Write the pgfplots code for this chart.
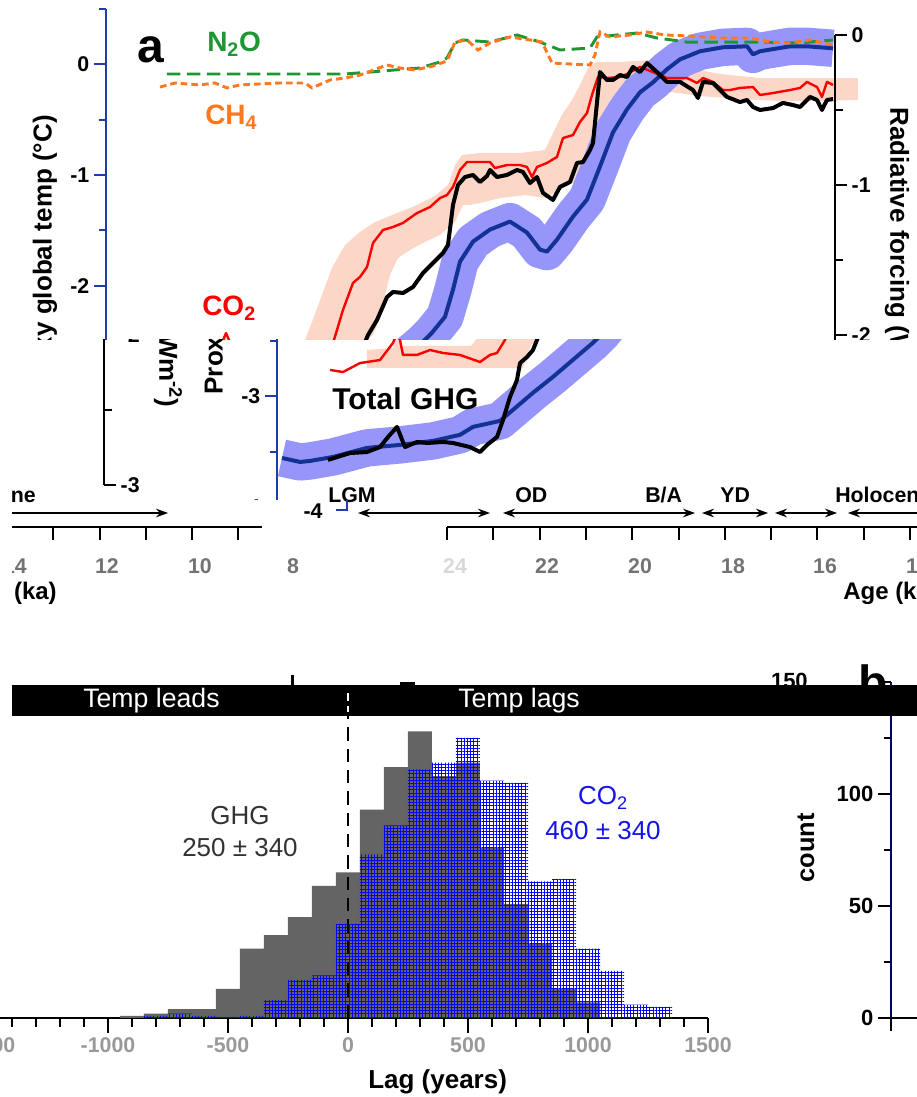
\documentclass[border=0pt]{standalone}
\usepackage{fontspec}
\setmainfont{Liberation Sans}
\usepackage{pgfplots}
\pgfplotsset{compat=1.18}
\usepackage{pgfplotstable}
\usetikzlibrary{arrows.meta,patterns.meta}

\definecolor{bluax}{RGB}{30,60,170}
\definecolor{blueline}{RGB}{20,50,150}
\definecolor{blueband}{RGB}{150,150,250}
\definecolor{pinkband}{RGB}{252,214,198}
\definecolor{gN}{RGB}{30,150,50}
\definecolor{oC}{RGB}{255,120,30}
\definecolor{hgray}{RGB}{100,100,100}
\definecolor{tgray}{RGB}{50,50,50}
\definecolor{cblue}{RGB}{20,20,230}
\newcommand{\fs}[1]{\fontsize{#1}{#1}\selectfont}
\tikzset{px/.style={x=0.75pt,y=0.75pt}}

% ---------- panel a data (age in ka, temperature in degC, forcing in W m-2)
\pgfplotstableread{
x y
24.42 -3.557
24.06 -3.593
23.86 -3.584
23.40 -3.548
22.72 -3.466
22.06 -3.439
21.40 -3.403
20.86 -3.348
20.60 -3.276
20.06 -3.222
19.80 -3.122
19.40 -2.968
19.00 -2.824
18.60 -2.670
18.20 -2.516
18.00 -2.425
17.74 -2.281
17.58 -2.036
17.44 -1.783
17.18 -1.602
16.84 -1.493
16.44 -1.421
16.10 -1.520
15.84 -1.674
15.70 -1.692
15.50 -1.584
15.18 -1.376
14.90 -1.222
14.64 -0.923
14.38 -0.615
14.10 -0.407
13.84 -0.253
13.58 -0.163
13.30 -0.045
13.04 0.045
12.64 0.118
12.18 0.154
11.70 0.163
11.58 0.090
11.44 0.118
10.84 0.163
10.50 0.163
9.98 0.145
}\tblue

\pgfplotstableread{
x y
23.50 -2.833
23.06 -2.787
22.72 -2.780
22.46 -2.747
22.30 -2.680
22.12 -2.613
21.96 -2.747
21.72 -2.713
21.52 -2.720
21.20 -2.713
21.00 -2.720
20.66 -2.747
20.46 -2.780
20.32 -2.733
20.12 -2.680
20.00 -2.567
19.86 -2.413
19.72 -2.300
19.66 -2.187
19.52 -2.147
19.40 -2.100
19.28 -2.000
19.10 -1.900
18.90 -1.747
18.78 -1.713
18.58 -1.720
18.38 -1.680
18.18 -1.587
17.98 -1.520
17.78 -1.453
17.68 -1.400
17.58 -1.133
17.48 -1.000
17.34 -0.947
17.18 -0.933
17.04 -0.980
16.90 -0.940
16.84 -0.900
16.70 -0.947
16.50 -0.933
16.30 -0.900
16.18 -0.913
16.04 -0.987
15.90 -0.947
15.78 -1.053
15.58 -1.100
15.44 -1.013
15.24 -0.980
15.10 -0.853
14.98 -0.847
14.84 -0.767
14.78 -0.720
14.64 -0.247
14.50 -0.300
14.38 -0.300
14.24 -0.267
14.10 -0.280
13.98 -0.213
13.84 -0.247
13.70 -0.187
13.50 -0.247
13.30 -0.313
13.04 -0.313
12.78 -0.367
12.68 -0.420
12.58 -0.313
12.38 -0.320
12.10 -0.413
11.84 -0.447
11.70 -0.433
11.58 -0.480
11.44 -0.500
11.18 -0.487
10.98 -0.453
10.78 -0.467
10.64 -0.480
10.44 -0.413
10.30 -0.433
10.20 -0.500
10.10 -0.433
9.98 -0.427
}\tblack

\pgfplotstableread{
x y
23.46 -2.233
23.20 -2.247
22.86 -2.187
22.46 -2.167
22.20 -2.053
22.12 -1.987
22.06 -2.033
22.00 -2.133
21.72 -2.133
21.46 -2.100
21.20 -2.120
20.86 -2.133
20.46 -2.180
20.26 -2.133
20.12 -2.120
19.96 -2.033
19.78 -1.833
19.58 -1.653
19.44 -1.613
19.30 -1.547
19.18 -1.387
18.98 -1.300
18.78 -1.280
18.58 -1.253
18.30 -1.187
18.04 -1.147
17.84 -1.087
17.70 -1.067
17.58 -1.013
17.44 -0.900
17.30 -0.847
16.84 -0.847
16.74 -0.887
16.50 -0.867
16.24 -0.867
16.10 -0.880
16.00 -0.947
15.90 -0.880
15.70 -0.853
15.50 -0.813
15.38 -0.687
15.18 -0.667
15.04 -0.580
14.90 -0.520
14.80 -0.400
14.68 -0.280
14.50 -0.287
14.24 -0.280
14.10 -0.260
13.84 -0.213
13.54 -0.253
13.30 -0.287
12.90 -0.287
12.70 -0.320
12.58 -0.287
12.38 -0.313
12.18 -0.367
12.04 -0.367
11.84 -0.353
11.58 -0.347
11.44 -0.400
11.18 -0.387
10.84 -0.367
10.64 -0.353
10.50 -0.313
10.30 -0.347
10.20 -0.413
10.10 -0.313
9.98 -0.333
}\tred

% CO2 uncertainty envelope: upper edge left to right, then lower edge right to left
\pgfplotstableread{
x y
22.72 -2.100
22.20 -2.087
22.14 -2.000
22.04 -2.073
20.64 -2.073
20.54 -2.033
20.40 -1.913
20.20 -1.733
20.00 -1.553
19.74 -1.400
19.44 -1.313
19.14 -1.247
18.74 -1.193
18.34 -1.140
17.94 -1.073
17.68 -1.000
17.54 -0.867
17.40 -0.800
17.04 -0.787
16.24 -0.787
15.74 -0.767
15.60 -0.667
15.40 -0.533
15.20 -0.433
15.04 -0.333
14.88 -0.220
14.72 -0.180
14.24 -0.180
13.64 -0.167
12.84 -0.220
12.24 -0.260
11.44 -0.287
10.64 -0.287
9.48 -0.287
9.48 -0.433
10.24 -0.440
11.04 -0.440
11.84 -0.427
12.64 -0.407
13.24 -0.380
13.84 -0.367
14.28 -0.380
14.44 -0.433
14.56 -0.580
14.68 -0.753
14.84 -0.900
15.08 -0.967
15.44 -1.033
15.74 -1.087
16.14 -1.067
16.64 -1.087
17.04 -1.120
17.24 -1.133
17.38 -1.133
17.54 -1.247
17.84 -1.333
18.14 -1.380
18.44 -1.433
18.68 -1.487
18.84 -1.600
18.94 -1.733
19.04 -1.887
19.18 -2.000
19.44 -2.067
19.60 -2.220
20.64 -2.220
22.72 -2.220
}\tpink

\pgfplotstableread{
x y
23.30 -0.260
19.74 -0.260
19.24 -0.247
18.74 -0.233
18.24 -0.220
17.84 -0.180
17.70 -0.153
17.54 -0.053
17.38 -0.033
16.84 -0.047
16.30 0.000
15.84 -0.047
15.44 -0.100
14.84 -0.087
14.70 -0.013
13.90 0.013
13.50 -0.020
12.90 -0.047
12.24 -0.047
11.44 -0.047
10.64 -0.053
9.98 -0.033
}\tnto

\pgfplotstableread{
x y
23.44 -0.347
23.14 -0.320
22.64 -0.333
22.34 -0.320
22.10 -0.353
21.84 -0.333
21.04 -0.320
20.54 -0.320
20.40 -0.353
20.04 -0.300
19.74 -0.287
19.44 -0.267
18.90 -0.200
18.64 -0.220
18.34 -0.233
17.98 -0.207
17.70 -0.173
17.54 -0.047
17.30 -0.033
17.08 -0.100
16.84 -0.053
16.44 -0.013
16.04 -0.033
15.80 -0.047
15.60 -0.187
14.84 -0.200
14.74 -0.133
14.64 0.020
14.44 -0.013
14.04 0.000
13.70 0.020
13.34 0.000
12.84 -0.007
12.24 -0.020
11.64 -0.020
11.24 -0.047
10.84 -0.053
10.44 -0.033
9.98 -0.067
}\tch

\pgfplotsset{
  basepan/.style={scale only axis, width=546.75pt, xmin=9.94, xmax=24.52,
    x dir=reverse, clip=false, anchor=south west, axis x line=none,
    /pgf/number format/assume math mode=true, tick align=outside,
    yticklabel style={font=\bfseries\fs{16}, text=black}},
  tax/.style={basepan, height=373.5pt, ymin=-4, ymax=0.5},
  fax/.style={basepan, height=337.5pt, ymin=-3, ymax=0},
}

% the whole original panel a, shifted horizontally by #1 px
\newcommand{\panelA}[1]{%
\begin{axis}[fax, axis y line=none, at={({(106+(#1))*0.75pt},459pt)}]
  \addplot[fill=pinkband, draw=none] table {\tpink};
\end{axis}
\begin{axis}[tax, axis y line*=left, at={({(106+(#1))*0.75pt},442.5pt)},
    ytick={-4,-3,-2,-1,0}, minor ytick={-3.5,-2.5,-1.5,-0.5,0.5},
    major tick length=9pt, minor tick length=5.5pt,
    y axis line style={bluax, line width=1.5pt},
    ytick style={bluax, line width=1.5pt}]
  \addplot[blueband, line width=28pt, line join=round, line cap=butt] table {\tblue};
  \addplot[blueline, line width=3pt, line join=round] table {\tblue};
\end{axis}
\begin{axis}[fax, axis y line*=right, at={({(106+(#1))*0.75pt},459pt)},
    ytick={-3,-2,-1,0}, minor ytick={-2.5,-1.5,-0.5},
    major tick length=9pt, minor tick length=6pt,
    y axis line style={black, line width=1.5pt},
    ytick style={black, line width=1.5pt}]
  \addplot[red, line width=1.8pt, line join=round] table {\tred};
  \addplot[black, line width=3pt, line join=round] table {\tblack};
  \addplot[gN, line width=2.2pt, dash pattern=on 10pt off 5pt] table {\tnto};
  \addplot[oC, line width=2.2pt, dash pattern=on 5pt off 3pt] table {\tch};
\end{axis}
\begin{scope}[px]
\node[anchor=base west, inner sep=0, font=\bfseries\fs{36}] at ({137+(#1)},{1097-63}) {a};
\node[anchor=base west, inner sep=0, font=\bfseries\fs{21}, text=gN] at ({207+(#1)},{1097-52}) {N\textsubscript{2}O};
\node[anchor=base west, inner sep=0, font=\bfseries\fs{21}, text=oC] at ({205+(#1)},{1097-125}) {CH\textsubscript{4}};
\node[anchor=base west, inner sep=0, font=\bfseries\fs{21}, text=red] at ({202+(#1)},{1097-316}) {CO\textsubscript{2}};
\node[anchor=base west, inner sep=0, font=\bfseries\fs{22.5}] at ({161+(#1)},{1097-410}) {Total GHG};
\node[rotate=90, anchor=east, inner sep=0, font=\bfseries\fs{19.5}] at ({45+(#1)},{1097-115}) {Proxy global temp (°C)};
\node[rotate=-90, anchor=west, inner sep=0, font=\bfseries\fs{19.5}] at ({899+(#1)},{1097-107}) {Radiative forcing (Wm\textsuperscript{-2})};
\end{scope}
}

\begin{document}
\begin{tikzpicture}

% ---------- panel a, pieced together from three strips
\begin{scope}
  \clip[px] (0,757) rectangle (917,1097);
  \panelA{0}
\end{scope}
\begin{scope}
  \clip[px] (200,597) rectangle (917,757);
  \panelA{171}
\end{scope}
\begin{scope}
  \clip[px] (0,602) rectangle (200,757);
  \panelA{-731}
\end{scope}

% ---------- age axis strips
\begin{axis}[scale only axis, width=352.5pt, height=5pt, at={(335.25pt,427.5pt)}, anchor=south west,
  xmin=13.849, xmax=24, x dir=reverse, ymin=0, ymax=1, axis y line=none, axis x line*=bottom,
  xtick={14,...,24}, xticklabels={}, tick align=outside, major tick length=9.75pt,
  x axis line style={line width=1.5pt}, xtick style={line width=1.5pt, black}]
\end{axis}
\begin{axis}[scale only axis, width=187.5pt, height=5pt, at={(9pt,427.5pt)}, anchor=south west,
  xmin=8.492, xmax=13.892, x dir=reverse, ymin=0, ymax=1, axis y line=none, axis x line*=bottom,
  xtick={9,...,13}, xticklabels={}, tick align=outside, major tick length=9.75pt,
  x axis line style={line width=1.5pt}, xtick style={line width=1.5pt, black}]
\end{axis}
\begin{scope}[px, font=\bfseries\fs{16}, text=black!55]
  \node at (455,531) {\textcolor{black!15}{24}};
  \node at (547,531) {22};
  \node at (640,531) {20};
  \node at (733,531) {18};
  \node at (825,531) {16};
  \node at (918,531) {14};
  \node at (107,531) {12};
  \node at (200,531) {10};
  \node at (293,531) {8};
\end{scope}
\begin{scope}[px]
  \clip (12,480) rectangle (330,620);
  \node[font=\bfseries\fs{16}, text=black!55] at (15,531) {14};
  \node[anchor=base east, inner sep=0, font=\bfseries\fs{16}] at (36,594) {Holocene};
  \node[anchor=base east, inner sep=0, font=\bfseries\fs{18}] at (57,497) {Age (ka)};
\end{scope}
% event arrows
\begin{scope}[px, line width=0.8pt, >={Stealth[length=9pt,width=6.5pt]}]
  \draw[->] (12,584) -- (168,584);
  \draw[<->] (358,584) -- (490,584);
  \draw[<->] (503,584) -- (695,584);
  \draw[<->] (702,584) -- (768,584);
  \draw[<->] (775,584) -- (837,584);
  \draw[<-] (848,584) -- (930,584);
\end{scope}
\begin{scope}[px, font=\bfseries\fs{16}]
  \node[anchor=base west, inner sep=0] at (328,594) {LGM};
  \node[anchor=base west, inner sep=0] at (515,594) {OD};
  \node[anchor=base west, inner sep=0] at (645,594) {B/A};
  \node[anchor=base west, inner sep=0] at (720,594) {YD};
  \node[anchor=base west, inner sep=0] at (835,594) {Holocene};
  \node at (313,586) {-4};
  \draw[bluax, line width=1.5pt] (347,597) -- (347,587) -- (336,587);
  \node[anchor=base west, inner sep=0, font=\bfseries\fs{18}] at (843,497) {Age (ka)};
\end{scope}

% ---------- panel b: lag histogram
\begin{axis}[scale only axis, width=540pt, height=252pt, at={(-9pt,59.25pt)}, anchor=south west,
  xmin=-1500, xmax=1500, ymin=0, ymax=150, axis y line=none, axis x line*=bottom,
  xtick={-1500,-1000,...,1500}, minor x tick num=4, tick align=outside,
  major tick length=11.25pt, minor tick length=6.75pt,
  x axis line style={line width=1.9pt}, xtick style={line width=1.5pt, black},
  xticklabel style={font=\bfseries\fs{16}, text=black!40},
  /pgf/number format/assume math mode=true, /pgf/number format/1000 sep={}, clip=false]
  \addplot[ybar interval, fill=hgray, draw=none] coordinates {
    (-950,1) (-850,2) (-750,4) (-650,4) (-550,13) (-450,31) (-350,37) (-250,45)
    (-150,59) (-50,65) (50,93) (150,112) (250,128) (350,108) (450,114) (550,76)
    (650,51) (750,33) (850,13) (950,7) (1050,0)};
  \addplot[ybar interval, draw=none, pattern={Hatch[angle=0,distance=2.4pt,line width=0.45pt]}, pattern color=blue] coordinates {
    (-850,1) (-750,2) (-650,1) (-550,0.5) (-450,1) (-350,8) (-250,17) (-150,19)
    (-50,42) (50,73) (150,86) (250,111) (350,114) (450,125) (550,106) (650,105)
    (750,61) (850,62) (950,31) (1050,21) (1150,6) (1250,5) (1350,0)};
  \draw[black, line width=2.2pt, dash pattern=on 10pt off 6pt] (axis cs:0,0) -- (axis cs:0,135);
\end{axis}
\begin{axis}[scale only axis, width=80pt, height=252pt, at={(668.25pt,59.25pt)}, anchor=south west,
  xmin=0, xmax=1, ymin=0, ymax=150, axis y line*=left, axis x line*=bottom,
  xtick={0}, xticklabels={}, ytick={0,50,100,150}, yticklabels={0,50,100,{}},
  minor ytick={25,75,125}, tick align=outside, major tick length=9.75pt, minor tick length=5pt,
  y axis line style={line width=1pt, black!60!blue}, x axis line style={line width=1.5pt, black},
  tick style={line width=1.5pt, black},
  yticklabel style={font=\bfseries\fs{16.5}},
  /pgf/number format/assume math mode=true]
\end{axis}
\begin{scope}[px]
\node[rotate=90, font=\bfseries\fs{19}] at (806,249) {count};
\node[anchor=base, inner sep=0, font=\fs{19.5}, text=tgray] at (240,272) {GHG};
\node[anchor=base, inner sep=0, font=\fs{19.5}, text=tgray] at (240,240) {250 ± 340};
\node[anchor=base, inner sep=0, font=\fs{19.5}, text=cblue] at (603,292) {CO\textsubscript{2}};
\node[anchor=base, inner sep=0, font=\fs{19.5}, text=cblue] at (603,257) {460 ± 340};
\node[anchor=base west, inner sep=0, font=\bfseries\fs{19.5}] at (368,8) {Lag (years)};
\node[anchor=base east, inner sep=0, font=\bfseries\fs{16.5}] at (808,408) {150};
\node[anchor=base west, inner sep=0, font=\bfseries\fs{36}] at (858,397) {b};
% band across the top of panel b
\fill[black] (12,381) rectangle (917,412);
\fill[black] (291,412) rectangle (294,422);
\fill[black] (400,412) rectangle (415,415);
\draw[white, line width=2pt] (348,404) -- (348,396);
\draw[white, line width=2pt] (348,391) -- (348,385);
\node[anchor=base west, inner sep=0, font=\fs{20}, text=white] at (83,389) {Temp leads};
\node[anchor=base west, inner sep=0, font=\fs{20}, text=white] at (458,389) {Temp lags};
\end{scope}

\pgfresetboundingbox
\path[use as bounding box] (0pt,0pt) rectangle (687.75pt,822.75pt);
\end{tikzpicture}
\end{document}
